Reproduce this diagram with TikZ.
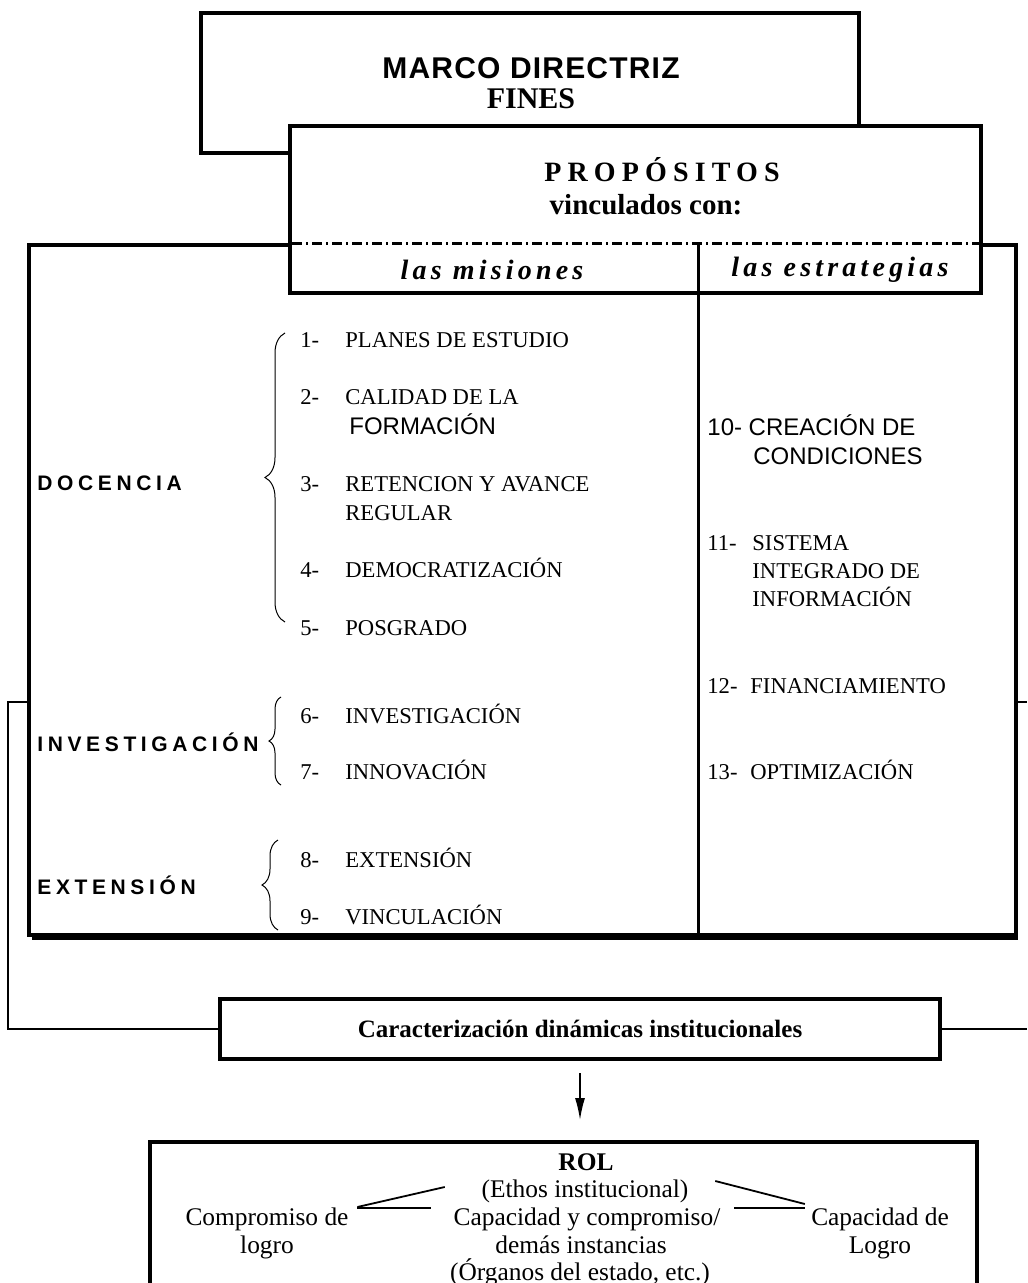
\documentclass[tikz,border=0pt]{standalone}
\usepackage{fontspec}
\setmainfont{Liberation Serif}
\setsansfont{Liberation Sans}
\newfontfamily\marcofont[LetterSpace=4]{Liberation Sans}
\newfontfamily\areafont[LetterSpace=22]{Liberation Sans}
\newfontfamily\propfont[LetterSpace=22]{Liberation Serif}
\newfontfamily\colfont[LetterSpace=15]{Liberation Serif}
\usepackage{tikz}
\usetikzlibrary{arrows.meta,positioning,decorations.pathreplacing}

\tikzset{
  box/.style={draw, line width=2pt},
  item/.style={anchor=west, inner sep=0pt, text height=7.5pt, text depth=0pt, font=\fontsize{11.3}{14}\selectfont},
  sitem/.style={anchor=west, inner sep=0pt, text height=8.6pt, text depth=0pt, font=\sffamily\fontsize{12}{14}\selectfont},
  area/.style={anchor=west, inner sep=0pt, text height=7.5pt, text depth=0pt, font=\areafont\bfseries\fontsize{10.5}{12}\selectfont},
  rolt/.style={inner sep=0pt, text height=8.4pt, text depth=0pt, font=\fontsize{12.7}{14}\selectfont},
  coltit/.style={inner sep=0pt, font=\colfont\bfseries\itshape\fontsize{14}{16}\selectfont},
  llave/.style={decorate, line width=0.5pt},
  thinline/.style={line width=0.6pt},
  rolline/.style={line width=0.9pt},
}

\begin{document}
\begin{tikzpicture}[x=0.5pt,y=-0.5pt]
\useasboundingbox (0,0) rectangle (1027,1283);

\draw[line width=1.7pt] (201,13) rectangle (859,153);
\node[inner sep=0pt, text height=10.7pt, text depth=0pt, font=\marcofont\bfseries\fontsize{15}{17}\selectfont] (marco) at (531,68) {MARCO DIRECTRIZ};
\node[inner sep=0pt, text height=9.9pt, text depth=0pt, font=\bfseries\fontsize{15}{17}\selectfont] (fines) at (531,99) {FINES};

\draw[line width=2pt] (29,245) rectangle (1016,935);
\draw[line width=2pt] (32,938) -- (1018,938);

\draw[line width=1.7pt, fill=white] (290,126) rectangle (981,293);
\draw[line width=1.5pt, dash pattern=on 5pt off 2pt on 1pt off 2pt] (292,244) -- (979,244);
\draw[line width=1.5pt] (698,244) -- (698,935);

\node[font=\propfont\bfseries\fontsize{14}{16}\selectfont] (prop) at (662,170) {PROPÓSITOS};
\node[font=\bfseries\fontsize{14.5}{16}\selectfont] (vinc) at (646,205) {vinculados con:};
\node[coltit] (misiones) at (492,270) {las misiones};
\node[coltit] (estrategias) at (840,270) {las estrategias};

% misiones
\node[area] (docencia) at (37,483) {DOCENCIA};
\node[area] (investigacion) at (37,744) {INVESTIGACIÓN};
\node[area] (extension) at (37,887) {EXTENSIÓN};

\draw[llave, decoration={brace, amplitude=10pt}] (285,622) -- (285,333);
\draw[llave, decoration={brace, amplitude=6pt}] (281,785) -- (281,697);
\draw[llave, decoration={brace, amplitude=8pt}] (278,930) -- (278,840);

\node[item] (n1) at (300,340) {1-};
\node[item] (t1) at (345,340) {PLANES DE ESTUDIO};
\node[item] (n2) at (300,397) {2-};
\node[item] (t2) at (345,397) {CALIDAD DE LA};
\node[sitem] (t2b) at (349,426) {FORMACIÓN};
\node[item] (n3) at (300,484) {3-};
\node[item] (t3) at (345,484) {RETENCION Y AVANCE};
\node[item] (t3b) at (345,513) {REGULAR};
\node[item] (n4) at (300,570) {4-};
\node[item] (t4) at (345,570) {DEMOCRATIZACIÓN};
\node[item] (n5) at (300,628) {5-};
\node[item] (t5) at (345,628) {POSGRADO};
\node[item] (n6) at (300,716) {6-};
\node[item] (t6) at (345,716) {INVESTIGACIÓN};
\node[item] (n7) at (300,772) {7-};
\node[item] (t7) at (345,772) {INNOVACIÓN};
\node[item] (n8) at (300,860) {8-};
\node[item] (t8) at (345,860) {EXTENSIÓN};
\node[item] (n9) at (300,917) {9-};
\node[item] (t9) at (345,917) {VINCULACIÓN};

% estrategias
\node[sitem] (t10) at (707,427) {10- CREACIÓN DE};
\node[sitem] (t10b) at (753,456) {CONDICIONES};
\node[item] (n11) at (707,543) {11-};
\node[item] (t11) at (752,543) {SISTEMA};
\node[item] (t11b) at (752,571) {INTEGRADO DE};
\node[item] (t11c) at (752,599) {INFORMACIÓN};
\node[item] (n12) at (707,686) {12-};
\node[item] (t12) at (750,686) {FINANCIAMIENTO};
\node[item] (n13) at (707,772) {13-};
\node[item] (t13) at (750,772) {OPTIMIZACIÓN};

\node[box, minimum width=360pt, minimum height=30pt, font=\bfseries\fontsize{12.5}{14}\selectfont] (car) at (580,1029) {Caracterización dinámicas institucionales};

\coordinate (lbend) at (8,702);
\coordinate (lend) at (29,702);
\coordinate (rend) at (1016,702);
\coordinate (redge) at (1027,702);
\draw[thinline] (car.west) -| (lbend) -- (lend);
\draw[thinline] (rend) -- (redge);
\draw[thinline] (car.east) -- (car.east -| redge);

\node[box, minimum width=413.5pt, minimum height=120pt, anchor=north] (rol) at (563.5,1140) {};
\draw[line width=0.8pt, -{Latex[length=11pt,width=5pt]}, shorten <=6pt, shorten >=10pt] (car.south) -- (car.south |- rol.north);

\node[rolt, font=\bfseries\fontsize{12.7}{14}\selectfont] (roltit) at (586,1162) {ROL};
\node[rolt] (ethos) at (585,1189) {(Ethos institucional)};
\node[rolt] (capac) at (587,1217) {Capacidad y compromiso/};
\node[rolt] (demas) at (581,1245) {demás instancias};
\node[rolt] (organos) at (580,1272) {(Órganos del estado, etc.)};
\node[rolt] (comp) at (267,1217) {Compromiso de};
\node[rolt] (compb) at (267,1245) {logro};
\node[rolt] (capl) at (880,1217) {Capacidad de};
\node[rolt] (caplb) at (880,1245) {Logro};

\draw[rolline] ([xshift=4.25pt,yshift=5pt]comp.east) -- ([xshift=-18.25pt,yshift=1pt]ethos.west);
\draw[line width=0.7pt] ([xshift=4.25pt,yshift=4.5pt]comp.east) -- ([xshift=-11.25pt,yshift=4.5pt]capac.west);
\draw[rolline] ([xshift=13.25pt,yshift=4pt]ethos.east) -- ([xshift=-3pt,yshift=6.5pt]capl.west);
\draw[line width=0.7pt] ([xshift=6.75pt,yshift=4.5pt]capac.east) -- ([xshift=-3pt,yshift=4.5pt]capl.west);
\end{tikzpicture}
\end{document}
